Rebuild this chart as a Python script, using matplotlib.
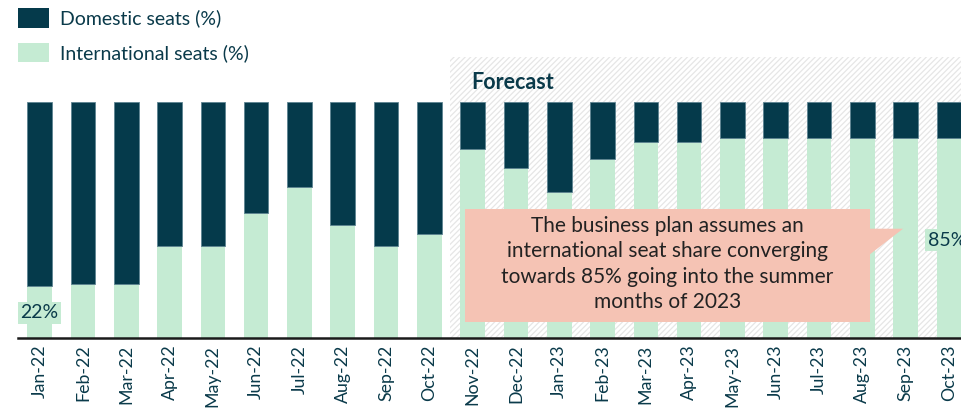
import matplotlib
matplotlib.use("Agg")
import matplotlib.pyplot as plt
from matplotlib.patches import Rectangle, Polygon, Patch
import numpy as np

months = ["Jan-22", "Feb-22", "Mar-22", "Apr-22", "May-22", "Jun-22", "Jul-22",
          "Aug-22", "Sep-22", "Oct-22", "Nov-22", "Dec-22", "Jan-23", "Feb-23",
          "Mar-23", "Apr-23", "May-23", "Jun-23", "Jul-23", "Aug-23", "Sep-23", "Oct-23"]
international = [22, 23, 23, 39, 39, 53, 64, 48, 39, 44, 80, 72, 62, 76,
                 83, 83, 85, 85, 85, 85, 85, 85]
domestic = [100 - v for v in international]

DARK = "#053a4b"
LIGHT = "#c5ebd3"
SALMON = "#f5c3b4"
TEXT = "#0a3a4a"

plt.rcParams['font.family'] = ['Lato', 'DejaVu Sans']
plt.rcParams['hatch.linewidth'] = 0.9

fig = plt.figure(figsize=(9.61, 4.08), dpi=100)
W, H = 961, 408
ax_left, ax_right = 18, 961
ax_bottom_px = 337.7
px_per_100 = 235.4
ymax = 120
ax = fig.add_axes([ax_left / W, (H - ax_bottom_px) / H,
                   (ax_right - ax_left) / W, px_per_100 * ymax / 100 / H])

x = np.arange(len(months))
pitch = 43.3
xmax = (ax_right - ax_left) / pitch - 0.5
ax.set_xlim(-0.5, xmax)
ax.set_ylim(0, ymax)

# forecast hatched region
ax.add_patch(Rectangle((9.48, 0), xmax - 9.48 + 1, 119.4, facecolor="white",
                       edgecolor="#e6e6e6", hatch="//////", linewidth=0, zorder=0))

w = 0.57
ax.bar(x, international, width=w, color=LIGHT, zorder=2, linewidth=0)
ax.bar(x, domestic, width=w, bottom=international, color=DARK, zorder=2,
       edgecolor="#5d8391", linewidth=0.6)

ax.text(9.97, 108.5, "Forecast", fontsize=15.5, fontweight="bold", color=TEXT,
        ha="left", va="center", zorder=3)

# value labels
ax.text(0, 10.5, f"{international[0]}%", fontsize=14, color=TEXT, ha="center",
        va="center", zorder=4,
        bbox=dict(boxstyle="square,pad=0.12", facecolor=LIGHT, edgecolor="none"))
ax.text(len(months) - 1 - 0.05, 41.5, f"{international[-1]}%", fontsize=14, color=TEXT,
        ha="center", va="center", zorder=4,
        bbox=dict(boxstyle="square,pad=0.12", facecolor=LIGHT, edgecolor="none"))

# callout
bx0, bx1, by0, by1 = 9.82, 19.18, 6.8, 54.8
ax.add_patch(Rectangle((bx0, by0), bx1 - bx0, by1 - by0, facecolor=SALMON,
                       edgecolor="none", zorder=5))
ax.add_patch(Polygon([(bx1 - 0.02, 46.3), (19.94, 46.3), (bx1 - 0.02, 35.2)],
                     closed=True, facecolor=SALMON, edgecolor="none", zorder=5))
ax.text((bx0 + bx1) / 2, (by0 + by1) / 2 + 0.5,
        "The business plan assumes an\ninternational seat share converging\n"
        "towards 85% going into the summer\nmonths of 2023",
        fontsize=15, color="#222222", ha="center", va="center",
        linespacing=1.35, zorder=6)

ax.set_xticks(x)
ax.set_xticklabels(months, rotation=90, fontsize=12.8, color=TEXT)
ax.tick_params(axis="x", length=0, pad=5)
ax.set_yticks([])
for s in ["top", "right", "left"]:
    ax.spines[s].set_visible(False)
ax.spines["bottom"].set_color("#1a1a1a")
ax.spines["bottom"].set_linewidth(1.8)
ax.spines["bottom"].set_zorder(7)

# legend
handles = [Patch(facecolor=DARK, edgecolor="none", label="Domestic seats (%)"),
           Patch(facecolor=LIGHT, edgecolor="none", label="International seats (%)")]
fig.legend(handles=handles, loc="upper left", bbox_to_anchor=(18 / W, 1 - 8 / H),
           frameon=False, fontsize=14, labelcolor=TEXT, handlelength=1.6,
           handleheight=1.2, handletextpad=0.55, labelspacing=0.75,
           borderaxespad=0, borderpad=0)

fig.savefig("out.png", dpi=100)
